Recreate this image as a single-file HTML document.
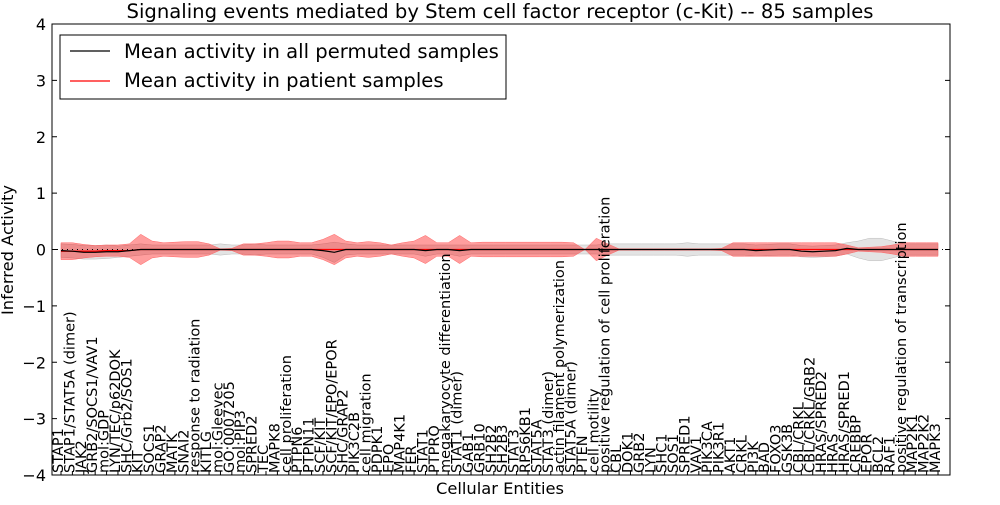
<!DOCTYPE html>
<html><head><meta charset="utf-8"><style>
body{margin:0;background:#fff;}
svg{font-family:"DejaVu Sans","Liberation Sans",sans-serif;}
</style></head><body>
<svg id="chart" width="1000" height="500" xmlns="http://www.w3.org/2000/svg">
<rect x="0" y="0" width="1000" height="500" fill="#fff"/>
<text x="500" y="18" font-size="19.6" text-anchor="middle">Signaling events mediated by Stem cell factor receptor (c-Kit) -- 85 samples</text>
<g id="bands"></g>
<g id="lines"></g>
<rect x="52" y="24" width="898" height="451" fill="none" stroke="#000" stroke-width="1"/>
<g id="yticks"></g>
<g id="xlabels"></g>
<text transform="translate(13,250) rotate(-90)" font-size="16.3" text-anchor="middle">Inferred Activity</text>
<text x="500" y="494" font-size="16.3" text-anchor="middle">Cellular Entities</text>
<g>
<rect x="60" y="35" width="446" height="64" fill="#fff" stroke="#000"/>
<line x1="70" y1="51" x2="110" y2="51" stroke="#000" stroke-width="1.2"/>
<text x="124" y="58" font-size="19.6">Mean activity in all permuted samples</text>
<line x1="70" y1="81" x2="110" y2="81" stroke="#f00" stroke-width="1.2"/>
<text x="124" y="87" font-size="19.6">Mean activity in patient samples</text>
</g>
</svg>
<script>
const categories=["STAP1","STAP1/STAT5A (dimer)","JAK2","GRB2/SOCS1/VAV1","mol:GDP","LYN/TEC/p62DOK","SHC/Grb2/SOS1","KIT","SOCS1","GRAP2","MATK","SNAI2","response to radiation","KITLG","mol:Gleevec","GO:0007205","mol:PIP3","SPRED2","TEC","MAPK8","cell proliferation","PTPN6","PTPN11","SCF/KIT","SCF/KIT/EPO/EPOR","SHC/GRAP2","PIK3C2B","cell migration","PDPK1","EPO","MAP4K1","FER","STAT1","PTPRO","megakaryocyte differentiation","STAT1 (dimer)","GAB1","GRB10","SH2B2","SH2B3","STAT3","RPS6KB1","STAT5A","STAT3 (dimer)","actin filament polymerization","STAT5A (dimer)","PTEN","cell motility","positive regulation of cell proliferation","CBL","DOK1","GRB2","LYN","SHC1","SOS1","SPRED1","VAV1","PIK3CA","PIK3R1","AKT1","CRKL","PI3K","BAD","FOXO3","GSK3B","CBL/CRKL","CBL/CRKL/GRB2","HRAS/SPRED2","HRAS","HRAS/SPRED1","CREBBP","EPOR","BCL2","RAF1","positive regulation of transcription","MAP2K1","MAP2K2","MAPK3"];
const patientMean=[-0.03,-0.03,-0.03,-0.03,-0.02,-0.02,-0.02,0,0,0,0,0,0,0,0,0,0,0,0,0,0,0,0,0,0,0,0,0,0,0,0,0,0,0,0,0,0,0,0,0,0,0,0,0,0,0,0,0,0,0,0,0,0,0,0,0,0,0,0,0,0,0,0,0,0,0,0,0,0,0,0,0,0,0,0,0,0,0];
const patientStd=[0.15,0.15,0.12,0.1,0.1,0.1,0.12,0.27,0.15,0.12,0.13,0.14,0.14,0.1,0.01,0.02,0.1,0.1,0.12,0.15,0.15,0.12,0.12,0.18,0.27,0.15,0.12,0.14,0.12,0.08,0.12,0.15,0.25,0.12,0.12,0.25,0.12,0.13,0.13,0.13,0.13,0.13,0.13,0.13,0.13,0.12,0.0,0.2,0.1,0.01,0.01,0.01,0.01,0.01,0.01,0.01,0.01,0.01,0.02,0.12,0.12,0.12,0.12,0.12,0.12,0.12,0.12,0.12,0.12,0.08,0.03,0.04,0.05,0.08,0.12,0.12,0.12,0.12];
const permMean=[-0.02,-0.03,-0.05,-0.05,-0.04,-0.04,-0.02,0,0,0,0,0,0,0,0,0,0,0,0,0,0,0,0,-0.02,-0.05,0,0,0,0,0,0,0,-0.02,0,0,-0.02,0,0,0,0,0,0,0,0,0,0,0,0,0,0,0,0,0,0,0,0,0,0,0,0,0,-0.02,-0.01,0,0,-0.03,-0.04,-0.03,-0.02,0.02,0,0,0,0,0,0,0,0];
const permStd=[0.12,0.12,0.12,0.12,0.12,0.1,0.1,0.1,0.08,0.08,0.08,0.08,0.08,0.08,0.1,0.08,0.08,0.1,0.08,0.08,0.08,0.08,0.08,0.12,0.18,0.1,0.08,0.08,0.08,0.08,0.08,0.08,0.1,0.08,0.08,0.1,0.08,0.08,0.08,0.08,0.08,0.08,0.08,0.08,0.08,0.08,0.08,0.08,0.1,0.1,0.1,0.1,0.1,0.1,0.1,0.12,0.1,0.1,0.1,0.1,0.1,0.1,0.1,0.1,0.1,0.1,0.1,0.1,0.1,0.1,0.15,0.2,0.2,0.15,0.1,0.1,0.1,0.1];
const yTicks=[4,3,2,1,0,-1,-2,-3,-4];
const NS="http://www.w3.org/2000/svg";
const X0=61,X1=938,T=24,B=475;
function xs(i){return X0+i*(X1-X0)/(categories.length-1);}
function ys(v){return T+(4-v)*(B-T)/8;}
function mk(tag,attrs,parent){const e=document.createElementNS(NS,tag);for(const k in attrs)e.setAttribute(k,attrs[k]);parent.appendChild(e);return e;}
function bandPath(m,s){let up=m.map((v,i)=>xs(i)+","+ys(v+s[i]));let dn=m.map((v,i)=>xs(i)+","+ys(v-s[i])).reverse();return "M"+up.join("L")+"L"+dn.join("L")+"Z";}
const bands=document.getElementById("bands"),lines=document.getElementById("lines");
let g=mk("path",{d:bandPath(permMean,permStd),fill:"#d0d0d0","fill-opacity":"0.6",stroke:"#bbb","stroke-width":"0.5"},bands);


let r=mk("path",{d:bandPath(patientMean,patientStd),fill:"#f00","fill-opacity":"0.38",stroke:"#f66","stroke-width":"0.5"},bands);


let z=mk("line",{x1:52,x2:950,y1:ys(0),y2:ys(0),stroke:"#000","stroke-dasharray":"1,4","stroke-width":"1"},lines);


let rl=mk("polyline",{points:patientMean.map((v,i)=>xs(i)+","+ys(v)).join(" "),fill:"none",stroke:"#f00","stroke-width":"1.3"},lines);


let bl=mk("polyline",{points:permMean.map((v,i)=>xs(i)+","+ys(v)).join(" "),fill:"none",stroke:"#000","stroke-width":"1.2"},lines);


const yt=document.getElementById("yticks");
yTicks.forEach(v=>{
  const y=ys(v);
  mk("line",{x1:52,x2:57,y1:y,y2:y,stroke:"#000"},yt);
  mk("line",{x1:945,x2:950,y1:y,y2:y,stroke:"#000"},yt);
  const t=mk("text",{x:46,y:y+6,"font-size":"16","text-anchor":"end"},yt);
  t.textContent=(v<0?"\u2212"+(-v):String(v));
  
  
});
const xl=document.getElementById("xlabels");
categories.forEach((c,i)=>{
  const x=xs(i);
  mk("line",{x1:x,x2:x,y1:B,y2:B-4,stroke:"#000"},xl);
  const t=mk("text",{transform:"translate("+(x+2)+","+(B-2)+") rotate(-90)","font-size":"14.5"},xl);
  t.textContent=c;
  
  
});
</script>
</body></html>
